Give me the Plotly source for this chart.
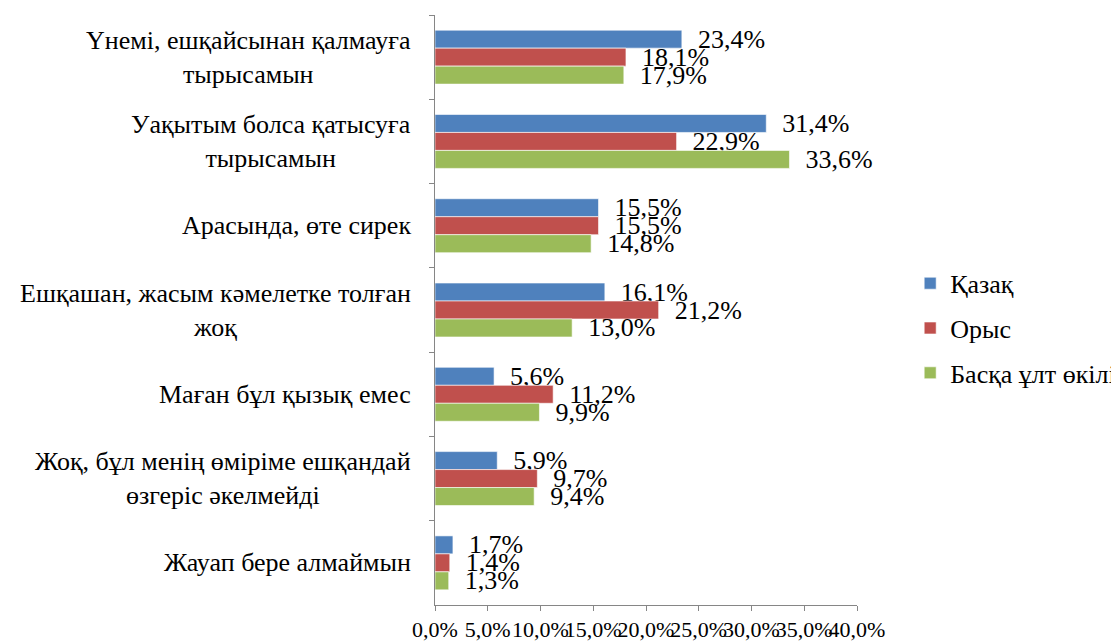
import plotly.graph_objects as go

categories = [
    "Үнемі, ешқайсынан қалмауға<br>тырысамын",
    "Уақытым болса қатысуға<br>тырысамын",
    "Арасында, өте сирек",
    "Ешқашан, жасым кәмелетке толған<br>жоқ",
    "Маған бұл қызық емес",
    "Жоқ, бұл менің өміріме ешқандай<br>өзгеріс әкелмейді",
    "Жауап бере алмаймын",
]

kazakh = [23.4, 31.4, 15.5, 16.1, 5.6, 5.9, 1.7]
russian = [18.1, 22.9, 15.5, 21.2, 11.2, 9.7, 1.4]
other = [17.9, 33.6, 14.8, 13.0, 9.9, 9.4, 1.3]

series = [
    ("Қазақ", kazakh, "#4F81BD"),
    ("Орыс", russian, "#C0504D"),
    ("Басқа ұлт өкілі", other, "#9BBB59"),
]

FONT = "Liberation Serif, Times New Roman, serif"
AXIS_GREY = "#868686"

fig = go.Figure()
for i, (name, vals, color) in enumerate(series):
    fig.add_trace(go.Bar(
        y=categories,
        x=vals,
        name=name,
        orientation="h",
        legendgroup=f"g{i}",
        marker=dict(color=color, line=dict(color="rgba(255,255,255,0.6)", width=1)),
        texttemplate="\u00a0\u00a0%{x:.1f}%",
        textposition="outside",
        constraintext="none",
        cliponaxis=False,
        textfont=dict(family=FONT, size=26, color="black"),
        hoverinfo="skip",
    ))

# category labels as annotations so each line is centered like the original
for cat in categories:
    fig.add_annotation(
        x=0, xref="paper", xshift=-22, xanchor="right",
        y=cat, yref="y", yanchor="middle",
        text=cat, align="center", showarrow=False,
        font=dict(family=FONT, size=26, color="black"),
    )

# page body adds an 8px offset, so the figure is 8px smaller
fig.update_layout(
    width=1111,
    height=633,
    barmode="group",
    bargap=0.36,
    bargroupgap=0,
    separators=", ",
    plot_bgcolor="white",
    paper_bgcolor="white",
    margin=dict(l=427, r=262, t=7, b=36, autoexpand=False),
    font=dict(family=FONT, size=22, color="black"),
    legend=dict(
        x=1.126, xanchor="left", y=0.469, yanchor="middle",
        traceorder="grouped", tracegroupgap=8,
        font=dict(family=FONT, size=26, color="black"),
    ),
    showlegend=True,
)

fig.update_xaxes(
    range=[0, 40], dtick=5, tickformat=".1f", ticksuffix="%",
    tickangle=0,
    showgrid=False, zeroline=False,
    showline=True, linecolor=AXIS_GREY, linewidth=1,
    ticks="outside", ticklen=5, tickcolor=AXIS_GREY,
    tickfont=dict(family=FONT, size=22, color="black"),
    automargin=False,
)
fig.update_yaxes(
    autorange="reversed", showticklabels=False,
    showgrid=False, zeroline=False,
    showline=True, linecolor=AXIS_GREY, linewidth=1,
    ticks="outside", ticklen=5, tickcolor=AXIS_GREY, tickson="boundaries",
    automargin=False,
)

fig.write_html("out.html")
